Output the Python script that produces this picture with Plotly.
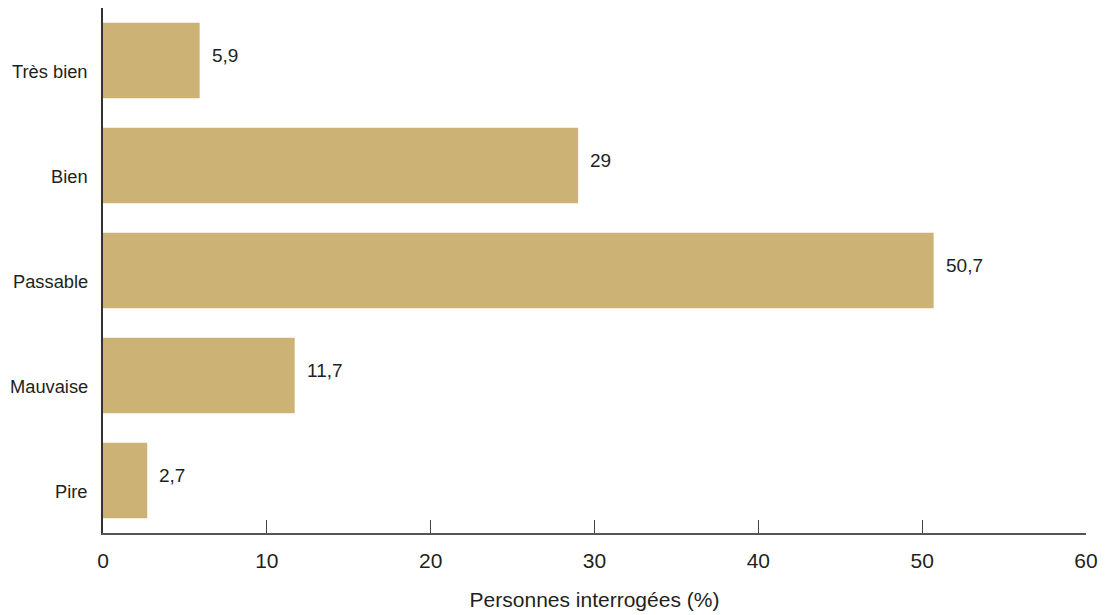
import plotly.graph_objects as go

categories = ["Très bien", "Bien", "Passable", "Mauvaise", "Pire"]
values = [5.9, 29, 50.7, 11.7, 2.7]
value_labels = ["5,9", "29", "50,7", "11,7", "2,7"]
x_ticks = [0, 10, 20, 30, 40, 50, 60]

bar_color = "#CDB276"
text_color = "#231F20"
font_family = "Liberation Sans, Arial, sans-serif"

fig = go.Figure()
fig.add_trace(go.Bar(
    y=categories,
    x=values,
    orientation="h",
    marker=dict(color=bar_color, line=dict(width=0)),
    width=0.72,
    hoverinfo="skip",
))

# value labels to the right of each bar
for cat, v, lab in zip(categories, values, value_labels):
    fig.add_annotation(
        x=v, y=cat, text=lab, showarrow=False,
        xanchor="left", yanchor="middle", xshift=10, yshift=5,
        font=dict(family=font_family, size=19, color=text_color),
    )

# category labels (drawn slightly below bar centres as in the reference)
for cat in categories:
    fig.add_annotation(
        x=0, xref="paper", y=cat, text=cat, showarrow=False,
        xanchor="right", yanchor="middle", xshift=-13, yshift=-11,
        font=dict(family=font_family, size=18.3, color=text_color),
    )

fig.update_layout(
    width=1108, height=615,
    margin=dict(l=103, r=22, t=8, b=82),
    plot_bgcolor="white", paper_bgcolor="white",
    showlegend=False,
    font=dict(family=font_family, color=text_color),
)

fig.update_xaxes(
    range=[0, 60],
    tickvals=x_ticks,
    ticktext=[str(t) for t in x_ticks],
    ticks="inside", ticklen=13, tickwidth=1, tickcolor="#444444",
    showline=True, linecolor="#555555", linewidth=1.5,
    showgrid=False, zeroline=False,
    tickfont=dict(size=21, color=text_color),
    ticklabelstandoff=8,
    automargin=False,
    title=dict(text="Personnes interrogées (%)", font=dict(size=21, color=text_color), standoff=21),
)

fig.update_yaxes(
    categoryorder="array",
    categoryarray=categories[::-1],
    range=[-0.5, 4.5],
    showline=True, linecolor="#333333", linewidth=1.5,
    showgrid=False, zeroline=False, ticks="",
    showticklabels=False,
    automargin=False,
)

fig.write_html(
    "out.html",
    config={"displayModeBar": False},
    post_script="document.body.style.margin='0';document.body.style.padding='0';",
)
